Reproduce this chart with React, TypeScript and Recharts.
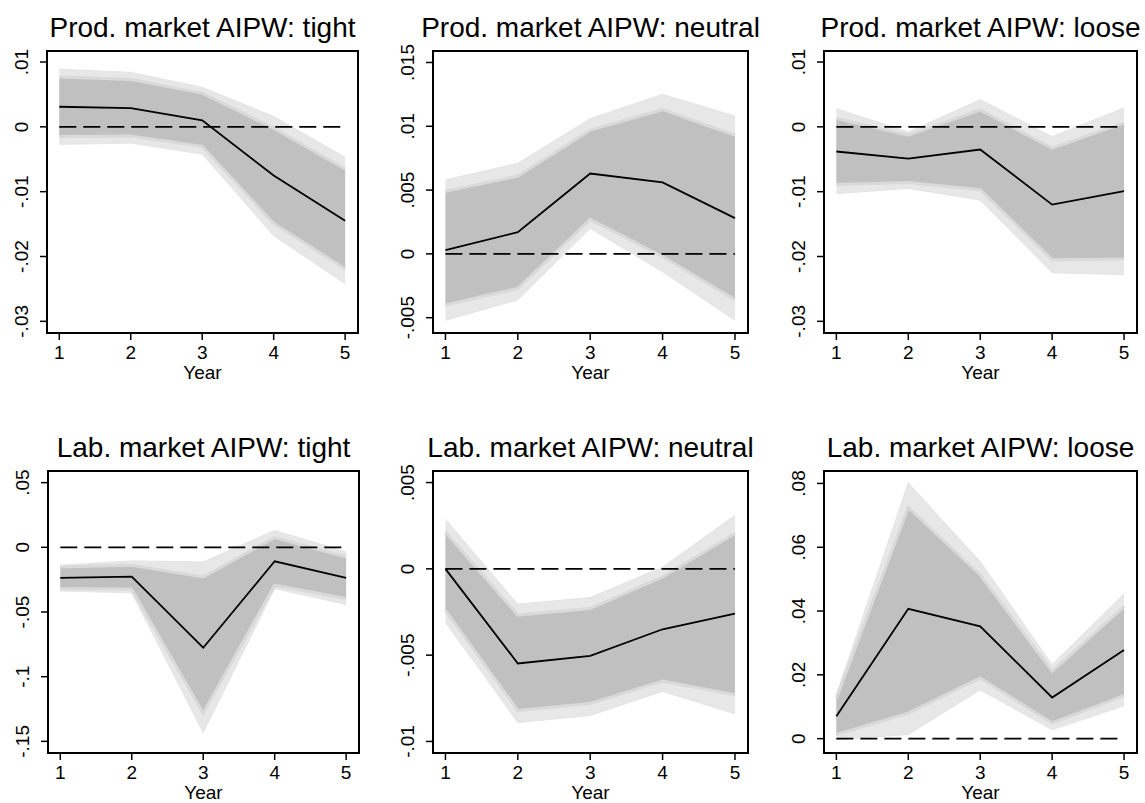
import { Area, ComposedChart, Line, ReferenceArea, XAxis, YAxis } from "recharts";

const FONT = '"Liberation Sans", Arial, Helvetica, sans-serif';

const years = [1, 2, 3, 4, 5];
const xTicks = [1, 2, 3, 4, 5];

// Prod. market, tight
const prodTightEst = [0.0031, 0.0029, 0.001, -0.0075, -0.0145];
const prodTightInLo = [-0.0015, -0.0014, -0.003, -0.0149, -0.0219];
const prodTightInHi = [0.0077, 0.0073, 0.0052, -0.0002, -0.0065];
const prodTightOutLo = [-0.0027, -0.0025, -0.0042, -0.0168, -0.0242];
const prodTightOutHi = [0.0089, 0.0084, 0.0061, 0.0016, -0.0047];
const prodTightTicks = [-0.03, -0.02, -0.01, 0, 0.01];

// Prod. market, neutral
const prodNeutralEst = [0.0003, 0.0017, 0.0063, 0.0056, 0.0028];
const prodNeutralInLo = [-0.004, -0.0027, 0.0027, -0.0002, -0.0036];
const prodNeutralInHi = [0.0049, 0.0061, 0.0097, 0.0113, 0.0093];
const prodNeutralOutLo = [-0.0052, -0.0036, 0.002, -0.0014, -0.0052];
const prodNeutralOutHi = [0.0058, 0.0071, 0.0106, 0.0125, 0.0108];
const prodNeutralTicks = [-0.005, 0, 0.005, 0.01, 0.015];

// Prod. market, loose
const prodLooseEst = [-0.0038, -0.0049, -0.0035, -0.012, -0.0099];
const prodLooseInLo = [-0.0089, -0.0086, -0.0097, -0.0205, -0.0204];
const prodLooseInHi = [0.0013, -0.0013, 0.0026, -0.0033, 0.0006];
const prodLooseOutLo = [-0.0103, -0.0095, -0.0113, -0.0225, -0.0228];
const prodLooseOutHi = [0.0028, -0.0008, 0.0042, -0.0015, 0.0029];
const prodLooseTicks = [-0.03, -0.02, -0.01, 0, 0.01];

// Lab. market, tight
const labTightEst = [-0.0236, -0.0226, -0.0776, -0.0108, -0.0236];
const labTightInLo = [-0.0319, -0.0324, -0.1283, -0.0293, -0.0396];
const labTightInHi = [-0.0152, -0.0139, -0.0229, 0.0075, -0.0075];
const labTightOutLo = [-0.0337, -0.0352, -0.1432, -0.0319, -0.0442];
const labTightOutHi = [-0.0139, -0.0105, -0.0113, 0.0131, -0.0036];
const labTightTicks = [-0.15, -0.1, -0.05, 0, 0.05];

// Lab. market, neutral
const labNeutralEst = [0, -0.00548, -0.00504, -0.0035, -0.00259];
const labNeutralInLo = [-0.0024, -0.0082, -0.0078, -0.0065, -0.0073];
const labNeutralInHi = [0.00214, -0.00268, -0.0023, -0.00046, 0.00205];
const labNeutralOutLo = [-0.0031, -0.0089, -0.0085, -0.0071, -0.0084];
const labNeutralOutHi = [0.00288, -0.00205, -0.00166, 0.0001, 0.0031];
const labNeutralTicks = [-0.01, -0.005, 0, 0.005];

// Lab. market, loose
const labLooseEst = [0.007, 0.0407, 0.0352, 0.0129, 0.0278];
const labLooseInLo = [0.0013, 0.008, 0.019, 0.0049, 0.0135];
const labLooseInHi = [0.0127, 0.0725, 0.0513, 0.0211, 0.0414];
const labLooseOutLo = [-0.0003, 0.0013, 0.0153, 0.0028, 0.0103];
const labLooseOutHi = [0.0138, 0.0802, 0.0555, 0.0232, 0.0454];
const labLooseTicks = [0, 0.02, 0.04, 0.06, 0.08];

function buildRows(est: number[], inLo: number[], inHi: number[], outLo: number[], outHi: number[]) {
  return years.map((yr, i) => ({
    year: yr,
    est: est[i],
    zero: 0,
    inner: [inLo[i], inHi[i]],
    outer: [outLo[i], outHi[i]],
  }));
}

function fmt(v: number) {
  if (v === 0) return "0";
  return String(v).replace(/^(-?)0\./, "$1.");
}

const YTick = (props: any) => {
  const { x, y, payload } = props;
  return (
    <text
      x={x}
      y={y}
      transform={`rotate(-90 ${x} ${y})`}
      textAnchor="middle"
      fontSize={19}
      fontFamily={FONT}
      fill="#000"
    >
      {fmt(payload.value)}
    </text>
  );
};

type PanelProps = {
  title: string;
  l: number;
  t: number;
  w: number;
  h: number;
  yDomain: [number, number];
  yTicks: number[];
  xDomain: [number, number];
  data: any[];
};

function Panel({ title, l, t, w, h, yDomain, yTicks, xDomain, data }: PanelProps) {
  const yAxisW = 50;
  const top = 10;
  const right = 4;
  const xAxisH = 58;
  return (
    <>
      <div
        style={{
          position: "absolute",
          left: l + w / 2,
          top: t - 37,
          transform: "translateX(-50%)",
          whiteSpace: "nowrap",
          fontFamily: FONT,
          fontSize: 28,
          lineHeight: "28px",
          color: "#000",
        }}
      >
        {title}
      </div>
      <div style={{ position: "absolute", left: l - yAxisW, top: t - top }}>
        <ComposedChart
          width={w + yAxisW + right}
          height={h + top + xAxisH}
          data={data}
          margin={{ top, right, bottom: 0, left: 0 }}
        >
          <XAxis
            dataKey="year"
            type="number"
            domain={xDomain}
            ticks={xTicks}
            allowDataOverflow
            interval={0}
            height={xAxisH}
            axisLine={false}
            tickSize={7}
            tickMargin={6}
            tickLine={{ stroke: "#000", strokeWidth: 1.5 }}
            tick={{ fill: "#000", fontSize: 19, fontFamily: FONT }}
            label={{ value: "Year", position: "insideTop", offset: 33, fill: "#000", fontSize: 19, fontFamily: FONT }}
          />
          <YAxis
            type="number"
            domain={yDomain}
            ticks={yTicks}
            allowDataOverflow
            interval={0}
            width={yAxisW}
            axisLine={false}
            tickSize={7}
            tickMargin={12}
            tickLine={{ stroke: "#000", strokeWidth: 1.5 }}
            tick={<YTick />}
          />
          <Area
            type="linear"
            dataKey="outer"
            fill="#e7e7e7"
            fillOpacity={1}
            stroke="#e4e4e4"
            strokeWidth={1}
            isAnimationActive={false}
          />
          <Area
            type="linear"
            dataKey="inner"
            fill="#c0c0c0"
            fillOpacity={1}
            stroke="#d9d9d9"
            strokeWidth={3}
            isAnimationActive={false}
          />
          <Line
            type="linear"
            dataKey="zero"
            stroke="#000"
            strokeWidth={1.8}
            strokeDasharray="17 7"
            dot={false}
            activeDot={false}
            isAnimationActive={false}
          />
          <Line
            type="linear"
            dataKey="est"
            stroke="#000"
            strokeWidth={1.8}
            dot={false}
            activeDot={false}
            isAnimationActive={false}
          />
          <ReferenceArea
            x1={xDomain[0]}
            x2={xDomain[1]}
            y1={yDomain[0]}
            y2={yDomain[1]}
            fill="none"
            stroke="#000"
            strokeWidth={2}
            ifOverflow="visible"
          />
        </ComposedChart>
      </div>
    </>
  );
}

export default function App() {
  const xDomain: [number, number] = [0.828, 5.18];
  return (
    <div
      style={{
        position: "absolute",
        left: 0,
        top: 0,
        width: 1145,
        height: 803,
        overflow: "hidden",
        background: "#fff",
      }}
    >
      <Panel
        title="Prod. market AIPW: tight"
        l={47} t={51} w={311} h={282}
        xDomain={xDomain}
        yDomain={[-0.0318, 0.0117]}
        yTicks={prodTightTicks}
        data={buildRows(prodTightEst, prodTightInLo, prodTightInHi, prodTightOutLo, prodTightOutHi)}
      />
      <Panel
        title="Prod. market AIPW: neutral"
        l={433} t={51} w={315} h={282}
        xDomain={xDomain}
        yDomain={[-0.0062, 0.0159]}
        yTicks={prodNeutralTicks}
        data={buildRows(prodNeutralEst, prodNeutralInLo, prodNeutralInHi, prodNeutralOutLo, prodNeutralOutHi)}
      />
      <Panel
        title="Prod. market AIPW: loose"
        l={824} t={51} w={313} h={282}
        xDomain={xDomain}
        yDomain={[-0.0318, 0.0117]}
        yTicks={prodLooseTicks}
        data={buildRows(prodLooseEst, prodLooseInLo, prodLooseInHi, prodLooseOutLo, prodLooseOutHi)}
      />
      <Panel
        title="Lab. market AIPW: tight"
        l={48} t={471} w={311} h={282}
        xDomain={xDomain}
        yDomain={[-0.159, 0.059]}
        yTicks={labTightTicks}
        data={buildRows(labTightEst, labTightInLo, labTightInHi, labTightOutLo, labTightOutHi)}
      />
      <Panel
        title="Lab. market AIPW: neutral"
        l={433} t={471} w={315} h={282}
        xDomain={xDomain}
        yDomain={[-0.01067, 0.00567]}
        yTicks={labNeutralTicks}
        data={buildRows(labNeutralEst, labNeutralInLo, labNeutralInHi, labNeutralOutLo, labNeutralOutHi)}
      />
      <Panel
        title="Lab. market AIPW: loose"
        l={824} t={471} w={313} h={282}
        xDomain={xDomain}
        yDomain={[-0.0045, 0.0839]}
        yTicks={labLooseTicks}
        data={buildRows(labLooseEst, labLooseInLo, labLooseInHi, labLooseOutLo, labLooseOutHi)}
      />
    </div>
  );
}
